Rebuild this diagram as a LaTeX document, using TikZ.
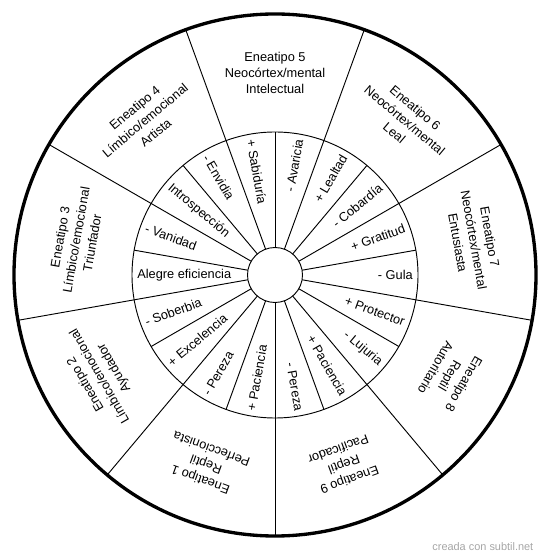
\documentclass[tikz,border=0pt]{standalone}
\usepackage{fontspec}
\setmainfont{Liberation Sans}
\tikzset{
  tipo/.style={align=center,font=\fontsize{9.6}{12.2}\selectfont},
  rasgo/.style={inner sep=0pt,font=\fontsize{9.6}{11}\selectfont},
  radio/.style={line width=0.7pt},
}
\begin{document}
\begin{tikzpicture}[x=0.75pt,y=0.75pt]
\useasboundingbox (-275,-284) rectangle (275,275);
\draw[radio] (0,0) circle (27.5);
\draw[radio] (0,0) circle (143);
\draw[radio] (10:27.5) -- (10:143);
\draw[radio] (50:27.5) -- (50:143);
\draw[radio] (90:27.5) -- (90:143);
\draw[radio] (130:27.5) -- (130:143);
\draw[radio] (170:27.5) -- (170:143);
\draw[radio] (210:27.5) -- (210:143);
\draw[radio] (250:27.5) -- (250:143);
\draw[radio] (290:27.5) -- (290:143);
\draw[radio] (330:27.5) -- (330:143);
\draw[radio] (30:27.5) -- (30:261);
\draw[radio] (70:27.5) -- (70:261);
\draw[radio] (110:27.5) -- (110:261);
\draw[radio] (150:27.5) -- (150:261);
\draw[radio] (190:27.5) -- (190:261);
\draw[radio] (230:27.5) -- (230:261);
\draw[radio] (270:27.5) -- (270:261);
\draw[radio] (310:27.5) -- (310:261);
\draw[radio] (350:27.5) -- (350:261);
\draw[line width=2.5pt] (0,0) circle (261);
\node[tipo,rotate=0] (e5) at (90:202) {Eneatipo 5\\Neocórtex/mental\\Intelectual};
\node[tipo,rotate=-40] (e6) at (50:202) {Eneatipo 6\\Neocórtex/mental\\Leal};
\node[tipo,rotate=-80] (e7) at (10:202) {Eneatipo 7\\Neocórtex/mental\\Entusiasta};
\node[tipo,rotate=-120] (e8) at (-30:202) {Eneatipo 8\\Reptil\\Autoritario};
\node[tipo,rotate=-160] (e9) at (-70:202) {Eneatipo 9\\Reptil\\Pacificador};
\node[tipo,rotate=160] (e1) at (-110:202) {Eneatipo 1\\Reptil\\Perfeccionista};
\node[tipo,rotate=120] (e2) at (-150:202) {Eneatipo 2\\Límbico/emocional\\Ayudador};
\node[tipo,rotate=80] (e3) at (170:202) {Eneatipo 3\\Límbico/emocional\\Triunfador};
\node[tipo,rotate=40] (e4) at (130:202) {Eneatipo 4\\Límbico/emocional\\Artista};
\node[rasgo,anchor=east,rotate=80] (s1) at (80:138) {- Avaricia};
\node[rasgo,anchor=east,rotate=60] (s2) at (60:138) {+ Lealtad};
\node[rasgo,anchor=east,rotate=40] (s3) at (40:138) {- Cobardía};
\node[rasgo,anchor=east,rotate=20] (s4) at (20:138) {+ Gratitud};
\node[rasgo,anchor=east,rotate=0] (s5) at (0:138) {- Gula};
\node[rasgo,anchor=east,rotate=-20] (s6) at (-20:138) {+ Protector};
\node[rasgo,anchor=east,rotate=-40] (s7) at (-40:138) {- Lujuria};
\node[rasgo,anchor=east,rotate=-60] (s8) at (-60:138) {+ Paciencia};
\node[rasgo,anchor=east,rotate=-80] (s9) at (-80:138) {- Pereza};
\node[rasgo,anchor=west,rotate=80] (s10) at (-100:138) {+ Paciencia};
\node[rasgo,anchor=west,rotate=60] (s11) at (-120:138) {- Pereza};
\node[rasgo,anchor=west,rotate=40] (s12) at (-140:138) {+ Excelencia};
\node[rasgo,anchor=west,rotate=20] (s13) at (-160:138) {- Soberbia};
\node[rasgo,anchor=west,rotate=0] (s14) at (180:138) {Alegre eficiencia};
\node[rasgo,anchor=west,rotate=-20] (s15) at (160:138) {- Vanidad};
\node[rasgo,anchor=west,rotate=-40] (s16) at (140:138) {Introspección};
\node[rasgo,anchor=west,rotate=-60] (s17) at (120:138) {- Envidia};
\node[rasgo,anchor=west,rotate=-80] (s18) at (100:138) {+ Sabiduría};
\node[text=gray!70,font=\fontsize{8.2}{10}\selectfont,anchor=east] (marca) at (263,-272) {creada con subtil.net};
\end{tikzpicture}
\end{document}
